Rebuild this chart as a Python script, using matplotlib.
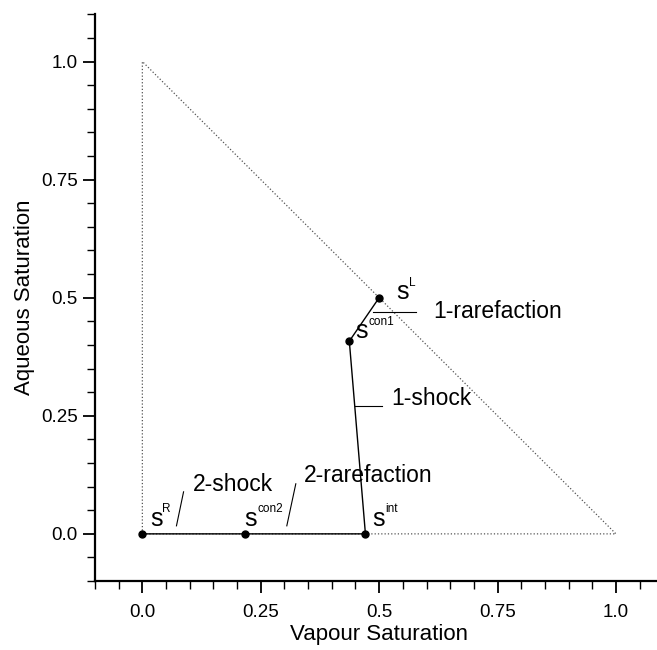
import numpy as np
import matplotlib.pyplot as plt
from matplotlib.ticker import MultipleLocator

plt.rcParams['font.family'] = ['Liberation Sans', 'DejaVu Sans']

# triangle boundary (vapour, aqueous)
tri_x = [0.0, 0.0, 1.0]
tri_y = [0.0, 1.0, 0.0]

# wave path: sL -> scon1 -> sint -> scon2 -> sR
path_x = [0.5, 0.437, 0.471, 0.216, 0.0]
path_y = [0.5, 0.408, 0.0, 0.0, 0.0]
point_names = ["L", "con1", "int", "con2", "R"]

fig = plt.figure(figsize=(6.57, 6.50), dpi=100)
ax = fig.add_axes([0.1446, 0.106, 0.865, 0.872])

ax.plot(tri_x + [tri_x[0]], tri_y + [tri_y[0]], ls=':', color='#555555', lw=0.9)
ax.plot(path_x, path_y, color='black', lw=1.0)
ax.plot(path_x, path_y, 'o', color='black', ms=5)

ax.set_xlim(-0.1, 1.1)
ax.set_ylim(-0.1, 1.1)
ax.spines['top'].set_visible(False)
ax.spines['right'].set_visible(False)
for s in ['left', 'bottom']:
    ax.spines[s].set_linewidth(1.6)

ax.xaxis.set_minor_locator(MultipleLocator(0.05))
ax.yaxis.set_minor_locator(MultipleLocator(0.05))
ticks = [0.0, 0.25, 0.5, 0.75, 1.0]
tick_labels = ["0.0", "0.25", "0.5", "0.75", "1.0"]
ax.set_xticks(ticks, tick_labels)
ax.set_yticks(ticks, tick_labels)
ax.tick_params(which='major', direction='out', length=8.6, width=1.3, labelsize=13.5)
ax.tick_params(axis='x', which='major', pad=8)
ax.tick_params(axis='y', which='major', pad=4)
ax.tick_params(which='minor', direction='out', length=5.8, width=1.0)

ax.set_xlabel("Vapour Saturation", fontsize=16, labelpad=2)
ax.set_ylabel("Aqueous Saturation", fontsize=16, labelpad=4)

# point labels: big "s" plus small superscript, offsets in points from the marker
s_off = {"L": (12.5, -1), "con1": (4.5, 2.0), "int": (5, 6),
         "con2": (0, 6), "R": (5.5, 6)}
for x, y, n in zip(path_x, path_y, point_names):
    dx, dy = s_off[n]
    ax.annotate("s", (x, y), xytext=(dx, dy), textcoords='offset points',
                fontsize=18, ha='left', va='baseline')
    ax.annotate(n, (x, y), xytext=(dx + 9, dy + 9.5), textcoords='offset points',
                fontsize=8.5, ha='left', va='baseline')

# wave annotations with leader lines
ax.text(0.615, 0.47, "1-rarefaction", fontsize=16.5, va='center')
ax.plot([0.487, 0.577], [0.469, 0.469], color='black', lw=0.8)
ax.text(0.526, 0.287, "1-shock", fontsize=16.5, va='center')
ax.plot([0.449, 0.506], [0.271, 0.271], color='black', lw=0.8)
ax.text(0.106, 0.105, "2-shock", fontsize=16.5, va='center')
ax.plot([0.072, 0.087], [0.017, 0.089], color='black', lw=0.8)
ax.text(0.340, 0.124, "2-rarefaction", fontsize=16.5, va='center')
ax.plot([0.305, 0.324], [0.017, 0.106], color='black', lw=0.8)

fig.savefig("out.png", dpi=100)
